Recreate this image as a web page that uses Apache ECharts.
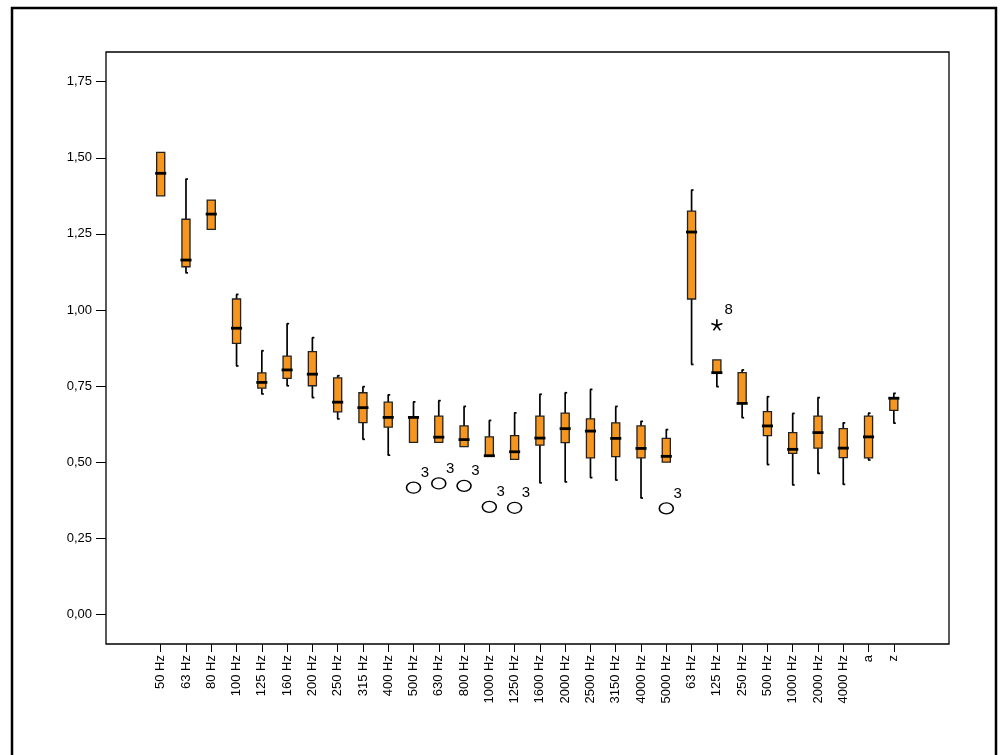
<!DOCTYPE html>
<html>
<head>
<meta charset="utf-8">
<script src="https://cdn.jsdelivr.net/npm/echarts@6/dist/echarts.min.js"></script>
<style>
html,body{margin:0;padding:0;background:#fff;}
#chart{width:1000px;height:755px;}
</style>
</head>
<body>
<div id="chart"></div>
<script>
// ---- data ----
var categories = ['50 Hz','63 Hz','80 Hz','100 Hz','125 Hz','160 Hz','200 Hz','250 Hz','315 Hz','400 Hz',
  '500 Hz','630 Hz','800 Hz','1000 Hz','1250 Hz','1600 Hz','2000 Hz','2500 Hz','3150 Hz','4000 Hz','5000 Hz',
  '63 Hz','125 Hz','250 Hz','500 Hz','1000 Hz','2000 Hz','4000 Hz','a','z'];
var whiskerLow = [1.375,1.122,1.265,0.816,0.724,0.751,0.712,0.642,0.575,0.523,
  0.565,0.565,0.551,0.519,0.509,0.432,0.435,0.449,0.441,0.382,0.500,
  0.821,0.748,0.646,0.492,0.425,0.463,0.427,0.507,0.628];
var q1 = [1.375,1.142,1.265,0.890,0.743,0.775,0.751,0.665,0.630,0.615,
  0.565,0.565,0.551,0.519,0.509,0.556,0.564,0.514,0.518,0.514,0.500,
  1.036,0.792,0.693,0.587,0.529,0.546,0.515,0.514,0.670];
var medians = [1.449,1.164,1.315,0.940,0.762,0.803,0.789,0.697,0.679,0.647,
  0.647,0.582,0.574,0.521,0.534,0.579,0.610,0.602,0.578,0.545,0.519,
  1.256,0.794,0.693,0.619,0.542,0.597,0.546,0.583,0.710];
var q3 = [1.518,1.298,1.361,1.036,0.793,0.848,0.863,0.777,0.728,0.697,
  0.649,0.651,0.619,0.583,0.587,0.651,0.661,0.642,0.629,0.619,0.578,
  1.325,0.836,0.794,0.666,0.597,0.651,0.610,0.651,0.712];
var whiskerHigh = [1.518,1.430,1.361,1.051,0.866,0.955,0.909,0.784,0.748,0.721,
  0.698,0.702,0.683,0.637,0.662,0.723,0.728,0.739,0.683,0.634,0.607,
  1.394,0.836,0.803,0.715,0.660,0.712,0.629,0.661,0.726];
// outliers (circles) and extremes (asterisks)
var outlierCats = [10,11,12,13,14,20];
var outlierValues = [0.416,0.430,0.422,0.353,0.350,0.348];
var outlierLabels = ['3','3','3','3','3','3'];
var extremeCats = [22];
var extremeValues = [0.951];
var extremeLabels = ['8'];
// y axis
var yMin = 0, yMax = 1.75, yStep = 0.25;

// ---- build ----
var boxData = categories.map(function(c, i){
  return [i, whiskerLow[i], q1[i], medians[i], q3[i], whiskerHigh[i]];
});
var outlierData = outlierCats.map(function(c, i){ return {value:[c, outlierValues[i]], lbl: outlierLabels[i]}; });
var extremeData = extremeCats.map(function(c, i){ return {value:[c, extremeValues[i]], lbl: extremeLabels[i]}; });

var FONT = 'Liberation Sans, Arial, sans-serif';
var BOX_COLOR = '#F7961F';

function renderBox(params, api){
  var idx = api.value(0);
  var x = api.coord([idx, 0])[0];
  var yLo = api.coord([idx, api.value(1)])[1];
  var yQ1 = api.coord([idx, api.value(2)])[1];
  var yMed = api.coord([idx, api.value(3)])[1];
  var yQ3 = api.coord([idx, api.value(4)])[1];
  var yHi = api.coord([idx, api.value(5)])[1];
  var hw = api.size([1, 0])[0] * 0.16;
  var wStyle = {stroke:'#000', lineWidth:1.7, fill:null};
  var children = [];
  if (yHi < yQ3 - 0.5) {
    children.push({type:'line', shape:{x1:x, y1:yHi, x2:x, y2:yQ3}, style:wStyle});
    children.push({type:'line', shape:{x1:x-0.5, y1:yHi, x2:x+2, y2:yHi}, style:wStyle});
  }
  if (yLo > yQ1 + 0.5) {
    children.push({type:'line', shape:{x1:x, y1:yQ1, x2:x, y2:yLo}, style:wStyle});
    children.push({type:'line', shape:{x1:x-0.5, y1:yLo, x2:x+2, y2:yLo}, style:wStyle});
  }
  children.push({type:'rect', shape:{x:x-hw, y:yQ3, width:2*hw, height:Math.max(yQ1-yQ3,1.5)},
    style:{fill:BOX_COLOR, stroke:'#222', lineWidth:1.3}});
  children.push({type:'line', shape:{x1:x-hw-1.5, y1:yMed, x2:x+hw+1.5, y2:yMed},
    style:{stroke:'#000', lineWidth:2.8}});
  return {type:'group', children:children};
}

var spacing = 25.28;
var firstCenter = 160.7;
var plotLeft = 106, plotTop = 52, plotRight = 949, plotBottom = 644;
var yTopPx = 81.7, yBotPx = 614.3;
var gridLeft = firstCenter - spacing/2;
var gridWidth = spacing * categories.length;

var chart = echarts.init(document.getElementById('chart'), null, {renderer:'canvas'});
chart.setOption({
  backgroundColor:'#fff',
  animation:false,
  textStyle:{fontFamily:FONT},
  graphic:[{
    type:'rect', z:100,
    shape:{x:12, y:8, width:984, height:800},
    style:{fill:null, stroke:'#000', lineWidth:2.5}
  }],
  grid:[
    // frame
    {left:plotLeft, top:plotTop, width:plotRight-plotLeft, height:plotBottom-plotTop,
     show:true, borderColor:'#000', borderWidth:1.3, backgroundColor:'#fff'},
    // data area (y 0..1.75)
    {left:gridLeft, top:yTopPx, width:gridWidth, height:yBotPx-yTopPx},
    // category axis strip at frame bottom
    {left:gridLeft, top:plotTop, width:gridWidth, height:plotBottom-plotTop}
  ],
  xAxis:[
    {type:'category', gridIndex:1, data:categories, boundaryGap:true, show:false},
    {type:'value', gridIndex:0, show:false, min:0, max:1},
    {type:'category', gridIndex:2, data:categories, boundaryGap:true, position:'bottom',
     axisLine:{show:false},
     axisTick:{show:true, alignWithLabel:true, length:8, lineStyle:{color:'#000', width:1}},
     axisLabel:{show:true, interval:0, rotate:90, margin:11, fontSize:13, color:'#000', fontFamily:FONT},
     splitLine:{show:false}}
  ],
  yAxis:[
    {type:'value', gridIndex:1, min:yMin, max:yMax, interval:yStep,
     offset: gridLeft - plotLeft,
     axisLine:{show:false},
     axisTick:{show:true, length:10, lineStyle:{color:'#000', width:1}},
     axisLabel:{show:true, margin:14, fontSize:13, color:'#000', fontFamily:FONT,
       formatter:function(v){ return v.toFixed(2).replace('.', ','); }},
     splitLine:{show:false}},
    {type:'value', gridIndex:0, show:false, min:0, max:1},
    {type:'value', gridIndex:2, show:false, min:0, max:1}
  ],
  series:[
    {type:'custom', xAxisIndex:0, yAxisIndex:0, renderItem:renderBox, data:boxData,
     encode:{x:0, y:[1,2,3,4,5]}, clip:false, z:3},
    {type:'scatter', xAxisIndex:0, yAxisIndex:0, data:outlierData,
     symbol:'circle', symbolSize:[14,11],
     itemStyle:{color:'#fff', borderColor:'#000', borderWidth:1.4, opacity:1},
     label:{show:true, formatter:function(p){ return p.data.lbl; }, position:[15,-16],
       align:'left', verticalAlign:'top', fontSize:15, color:'#000', fontFamily:FONT}},
    {type:'scatter', xAxisIndex:0, yAxisIndex:0, data:extremeData,
     symbol:'path://M5,5L5,0M5,5L9.76,3.45M5,5L0.24,3.45M5,5L7.94,9.05M5,5L2.06,9.05',
     symbolSize:[11,11],
     itemStyle:{color:'rgba(0,0,0,0)', borderColor:'#000', borderWidth:1.6, opacity:1},
     label:{show:true, formatter:function(p){ return p.data.lbl; }, position:[14,-16],
       align:'left', verticalAlign:'top', fontSize:15, color:'#000', fontFamily:FONT}}
  ]
});
</script>
</body>
</html>
